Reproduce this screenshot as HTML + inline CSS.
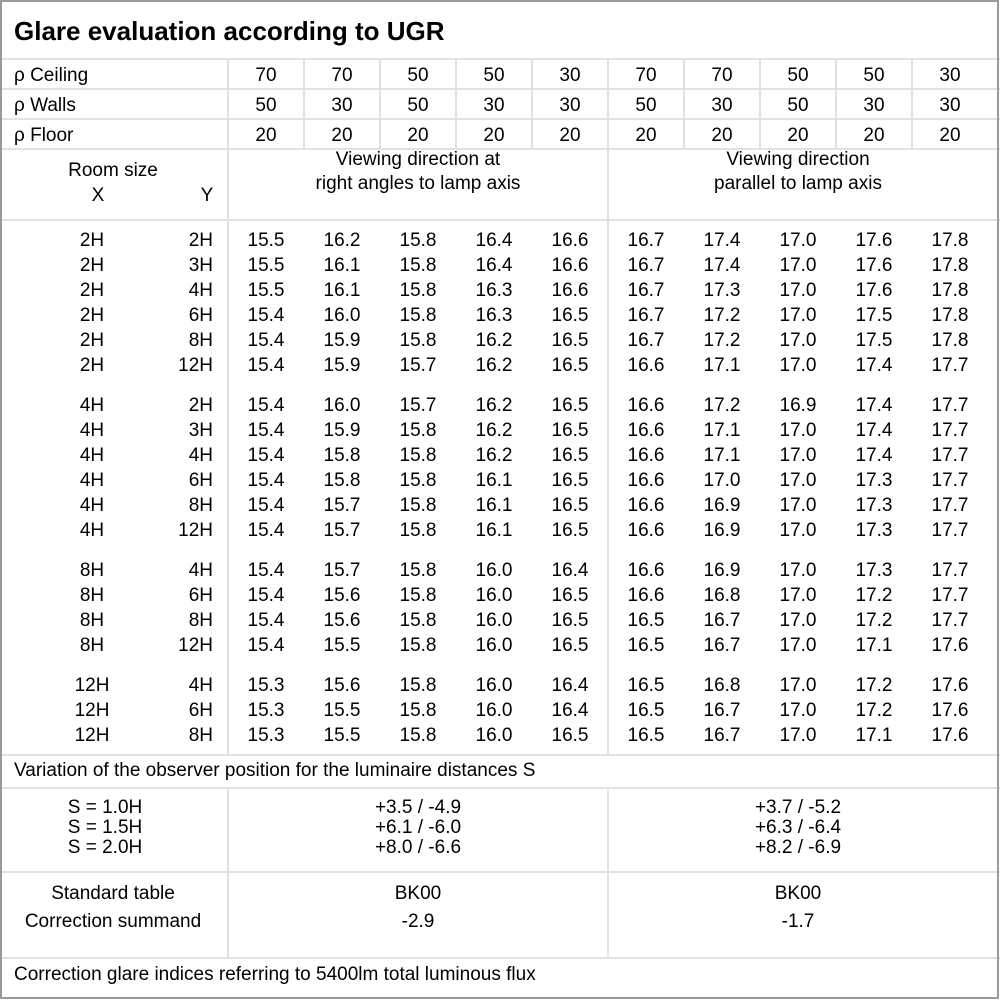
<!DOCTYPE html>
<html><head><meta charset="utf-8"><style>
body{margin:0;background:#fff}
svg{display:block;font-family:"Liberation Sans",sans-serif}
text{font-size:19px;fill:#000;dominant-baseline:central}
</style></head><body>
<svg id="s" width="1000" height="1000">
<rect x="0" y="0" width="1000" height="1000" fill="#fff"/>
<g stroke="#e2e2e2" stroke-width="2" id="grid"></g>
<rect x="1" y="1" width="997" height="997" fill="none" stroke="#9a9a9a" stroke-width="2"/>
<text x="14" y="31" style="font-size:26px;font-weight:bold">Glare evaluation according to UGR</text>
<g id="body" transform="translate(0,1.5)"></g>
</svg>
<script>
const ceiling=[70,70,50,50,30,70,70,50,50,30];
const walls=[50,30,50,30,30,50,30,50,30,30];
const floorv=[20,20,20,20,20,20,20,20,20,20];
const groups=[
[["2H","2H"],["2H","3H"],["2H","4H"],["2H","6H"],["2H","8H"],["2H","12H"]],
[["4H","2H"],["4H","3H"],["4H","4H"],["4H","6H"],["4H","8H"],["4H","12H"]],
[["8H","4H"],["8H","6H"],["8H","8H"],["8H","12H"]],
[["12H","4H"],["12H","6H"],["12H","8H"]]];
const values=[
["15.5","16.2","15.8","16.4","16.6","16.7","17.4","17.0","17.6","17.8"],
["15.5","16.1","15.8","16.4","16.6","16.7","17.4","17.0","17.6","17.8"],
["15.5","16.1","15.8","16.3","16.6","16.7","17.3","17.0","17.6","17.8"],
["15.4","16.0","15.8","16.3","16.5","16.7","17.2","17.0","17.5","17.8"],
["15.4","15.9","15.8","16.2","16.5","16.7","17.2","17.0","17.5","17.8"],
["15.4","15.9","15.7","16.2","16.5","16.6","17.1","17.0","17.4","17.7"],
["15.4","16.0","15.7","16.2","16.5","16.6","17.2","16.9","17.4","17.7"],
["15.4","15.9","15.8","16.2","16.5","16.6","17.1","17.0","17.4","17.7"],
["15.4","15.8","15.8","16.2","16.5","16.6","17.1","17.0","17.4","17.7"],
["15.4","15.8","15.8","16.1","16.5","16.6","17.0","17.0","17.3","17.7"],
["15.4","15.7","15.8","16.1","16.5","16.6","16.9","17.0","17.3","17.7"],
["15.4","15.7","15.8","16.1","16.5","16.6","16.9","17.0","17.3","17.7"],
["15.4","15.7","15.8","16.0","16.4","16.6","16.9","17.0","17.3","17.7"],
["15.4","15.6","15.8","16.0","16.5","16.6","16.8","17.0","17.2","17.7"],
["15.4","15.6","15.8","16.0","16.5","16.5","16.7","17.0","17.2","17.7"],
["15.4","15.5","15.8","16.0","16.5","16.5","16.7","17.0","17.1","17.6"],
["15.3","15.6","15.8","16.0","16.4","16.5","16.8","17.0","17.2","17.6"],
["15.3","15.5","15.8","16.0","16.4","16.5","16.7","17.0","17.2","17.6"],
["15.3","15.5","15.8","16.0","16.5","16.5","16.7","17.0","17.1","17.6"]];
const sLabels=["S = 1.0H","S = 1.5H","S = 2.0H"];
const sRight=["+3.5 / -4.9","+6.1 / -6.0","+8.0 / -6.6"];
const sPar=["+3.7 / -5.2","+6.3 / -6.4","+8.2 / -6.9"];
const NS="http://www.w3.org/2000/svg";
const body=document.getElementById('body'),grid=document.getElementById('grid');
function t(x,y,s,anchor,name){const e=document.createElementNS(NS,'text');e.setAttribute('x',x);e.setAttribute('y',y);if(anchor)e.setAttribute('text-anchor',anchor);e.textContent=s;


body.appendChild(e);}
function l(x1,y1,x2,y2){const e=document.createElementNS(NS,'line');e.setAttribute('x1',x1);e.setAttribute('y1',y1);e.setAttribute('x2',x2);e.setAttribute('y2',y2);


grid.appendChild(e);}
[59,89,119,149,220,755,788,872,958].forEach(y=>l(0,y,1000,y));
l(228,59,228,755);l(228,788,228,958);l(608,149,608,755);l(608,788,608,958);
for(let i=1;i<10;i++){if(i!==5)l(228+76*i,59,228+76*i,149);}
l(608,59,608,149);
const colX=i=>266+76*i;
[["ρ Ceiling",ceiling,74],["ρ Walls",walls,104],["ρ Floor",floorv,134]].forEach(([lab,arr,y])=>{t(14,y,lab,null,'row-label');arr.forEach((v,i)=>t(colX(i),y,v,'middle','reflectance-value'));});
t(113,169,"Room size",'middle','room-size-header');t(98,194,"X",'middle','x-header');t(207,194,"Y",'middle','y-header');
t(418,158,"Viewing direction at",'middle','right-angle-header');t(418,182,"right angles to lamp axis",'middle','right-angle-header');
t(798,158,"Viewing direction",'middle','parallel-header');t(798,182,"parallel to lamp axis",'middle','parallel-header');
let y=239,r=0;
groups.forEach(g=>{g.forEach(([x,yy])=>{t(92,y,x,'middle','room-x');t(213,y,yy,'end','room-y');values[r].forEach((v,i)=>t(colX(i),y,v,'middle','ugr-value'));r++;y+=25;});y+=15;});
t(14,769,"Variation of the observer position for the luminaire distances S",null,'variation-label');
sLabels.forEach((s,i)=>{const yy=806+20*i;t(105,yy,s,'middle','s-label');t(418,yy,sRight[i],'middle','s-right');t(798,yy,sPar[i],'middle','s-parallel');});
t(113,892,"Standard table",'middle','standard-table-label');t(113,920,"Correction summand",'middle','correction-label');
t(418,892,"BK00",'middle','standard-right');t(418,920,"-2.9",'middle','correction-right');
t(798,892,"BK00",'middle','standard-parallel');t(798,920,"-1.7",'middle','correction-parallel');
t(14,973,"Correction glare indices referring to 5400lm total luminous flux",null,'footer-note');
</script>
</body></html>
